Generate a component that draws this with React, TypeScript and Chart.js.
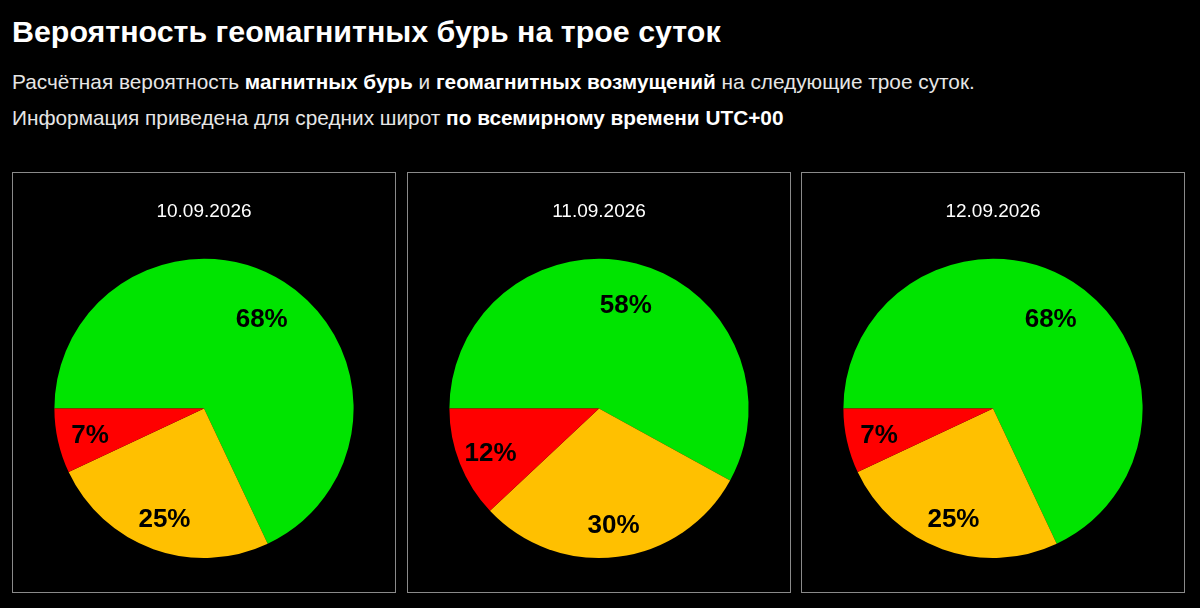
import { useEffect, useRef } from 'react';
import Chart from 'chart.js/auto';

const DATES = ['10.09.2026', '11.09.2026', '12.09.2026'];
const SLICES = ['Спокойно', 'Возмущения', 'Магнитная буря'];
const QUIET = [68, 58, 68];
const UNSETTLED = [25, 30, 25];
const STORM = [7, 12, 7];

const C = {
  green: '#00e400',
  yellow: '#ffc000',
  red: '#ff0000',
  border: '#8a8a8a',
  text: '#e6e6e6'
};

const FONT = '"Liberation Sans", Arial, sans-serif';

// percent text inside each slice
const sliceLabels = {
  id: 'sliceLabels',
  afterDatasetsDraw(chart: any) {
    const ctx = chart.ctx;
    const meta = chart.getDatasetMeta(0);
    const values = chart.data.datasets[0].data as number[];
    ctx.save();
    ctx.font = `bold 26px ${FONT}`;
    ctx.fillStyle = '#000';
    ctx.textAlign = 'center';
    ctx.textBaseline = 'middle';
    meta.data.forEach((arc: any, i: number) => {
      const { x, y, startAngle, endAngle, outerRadius } = arc.getProps(
        ['x', 'y', 'startAngle', 'endAngle', 'outerRadius'],
        true
      );
      const mid = (startAngle + endAngle) / 2;
      const f = values[i] > 50 ? 0.72 : 0.78;
      ctx.fillText(
        values[i] + '%',
        x + Math.cos(mid) * outerRadius * f,
        y + Math.sin(mid) * outerRadius * f + 2
      );
    });
    ctx.restore();
  }
};

function DayPie({ idx }: { idx: number }) {
  const ref = useRef<HTMLCanvasElement | null>(null);

  useEffect(() => {
    if (!ref.current) return;
    const chart = new Chart(ref.current, {
      type: 'pie',
      data: {
        labels: SLICES,
        datasets: [
          {
            data: [QUIET[idx], UNSETTLED[idx], STORM[idx]],
            backgroundColor: [C.green, C.yellow, C.red],
            borderWidth: 0
          }
        ]
      },
      options: {
        animation: false,
        responsive: true,
        maintainAspectRatio: false,
        rotation: -90,
        layout: { padding: { bottom: 34 } },
        plugins: {
          legend: { display: false },
          tooltip: { enabled: false },
          title: {
            display: true,
            text: DATES[idx],
            color: '#fff',
            font: { family: FONT, size: 19, weight: 'normal' },
            padding: { top: 27, bottom: 36 }
          }
        }
      },
      plugins: [sliceLabels]
    });
    return () => chart.destroy();
  }, [idx]);

  return (
    <div
      style={{
        position: 'absolute',
        left: [12, 407, 801][idx],
        top: 172,
        width: 384,
        height: 421,
        boxSizing: 'border-box',
        border: `1px solid ${C.border}`
      }}
    >
      <canvas ref={ref} />
    </div>
  );
}

export default function App() {
  const b = { color: '#fff', fontWeight: 'bold' as const };
  return (
    <div
      style={{
        position: 'fixed',
        left: 0,
        top: 0,
        width: 1200,
        height: 608,
        background: '#000',
        fontFamily: FONT
      }}
    >
      <div
        style={{
          position: 'absolute',
          left: 12,
          top: 13,
          fontSize: 30.4,
          lineHeight: '36px',
          fontWeight: 'bold',
          color: '#fff',
          whiteSpace: 'nowrap'
        }}
      >
        Вероятность геомагнитных бурь на трое суток
      </div>
      <div
        style={{
          position: 'absolute',
          left: 12,
          top: 64,
          fontSize: 20.8,
          lineHeight: '36px',
          color: C.text,
          whiteSpace: 'nowrap'
        }}
      >
        <div>
          Расчётная вероятность <span style={b}>магнитных бурь</span> и{' '}
          <span style={b}>геомагнитных возмущений</span> на следующие трое суток.
        </div>
        <div>
          Информация приведена для средних широт <span style={b}>по всемирному времени UTC+00</span>
        </div>
      </div>
      {DATES.map((_, i) => (
        <DayPie key={i} idx={i} />
      ))}
    </div>
  );
}
